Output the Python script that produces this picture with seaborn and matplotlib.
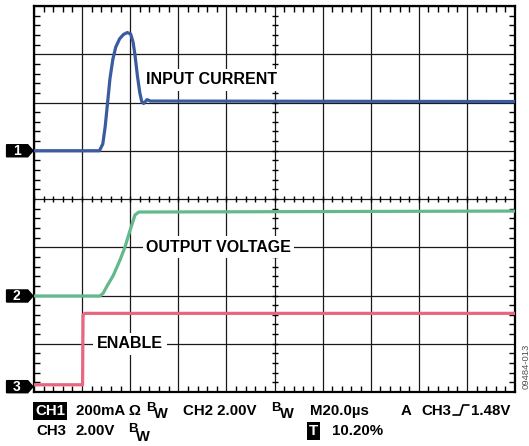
import numpy as np
import pandas as pd
import seaborn as sns
import matplotlib
matplotlib.use('Agg')
import matplotlib.pyplot as plt
from matplotlib.patches import Polygon

# scope traces, x and y in screen divisions
ch1_x = [0, 1.36, 1.43, 1.48, 1.53, 1.58, 1.64, 1.70, 1.78, 1.86, 1.94, 2.01, 2.06,
         2.10, 2.15, 2.20, 2.24, 2.28, 2.35, 2.42, 10]
ch1_y = [5.0, 5.0, 5.14, 5.5, 6.0, 6.5, 6.9, 7.15, 7.32, 7.41, 7.45, 7.42, 7.25,
         6.98, 6.55, 6.2, 6.02, 5.98, 6.06, 6.03, 6.02]

ch2_x = [0, 1.37, 1.44, 1.51, 1.65, 1.79, 1.89, 2.0, 2.10, 2.18, 10]
ch2_y = [1.99, 1.99, 2.05, 2.18, 2.42, 2.74, 3.0, 3.36, 3.67, 3.73, 3.75]

ch3_x = [0, 1.01, 1.02, 1.06, 10]
ch3_y = [0.15, 0.15, 1.60, 1.63, 1.63]

trace_names = ["1", "2", "3"]
trace_colors = ["#3b5ba0", "#62b98c", "#e8667f"]
marker_levels = [5.0, 1.99, 0.11]

labels = ["INPUT CURRENT", "OUTPUT VOLTAGE", "ENABLE"]
label_pos = [(2.33, 6.47), (2.33, 3.0), (1.31, 1.0)]

sns.set_style("white")
plt.rcParams['font.family'] = ['Liberation Sans', 'DejaVu Sans']
plt.rcParams['text.color'] = 'black'

fig = plt.figure(figsize=(5.29, 4.46), dpi=100)
ax = fig.add_axes([34/529, 1-392/446, 481/529, 386/446])

traces = [(ch1_x, ch1_y), (ch2_x, ch2_y), (ch3_x, ch3_y)]
for (tx, ty), name, col in zip(traces, trace_names, trace_colors):
    df = pd.DataFrame({"t": tx, "v": ty})
    sns.lineplot(data=df, x="t", y="v", ax=ax, color=col, linewidth=2.3,
                 estimator=None, sort=False, zorder=3)

ax.set_xlim(0, 10)
ax.set_ylim(0, 8)
ax.set_xticks(np.arange(0, 11, 1))
ax.set_yticks(np.arange(0, 9, 1))
ax.set_xticks(np.arange(0, 10.01, 0.2), minor=True)
ax.set_yticks(np.arange(0, 8.01, 0.2), minor=True)
ax.grid(True, which='major', color='#1a1a1a', linewidth=0.9)
ax.tick_params(which='major', length=0, labelbottom=False, labelleft=False)
ax.tick_params(which='minor', direction='in', length=4, width=1, color='black',
               top=True, right=True, bottom=True, left=True)
ax.set_xlabel("")
ax.set_ylabel("")
for sp in ax.spines.values():
    sp.set_color('black')
    sp.set_linewidth(1.6)

# center cross ticks
cx = np.arange(0, 10.01, 0.2)
cy = np.arange(0, 8.01, 0.2)
ax.plot(cx, np.full_like(cx, 4.0), ls='none', marker='|', ms=5, mew=1, color='black', zorder=2)
ax.plot(np.full_like(cy, 5.0), cy, ls='none', marker='_', ms=5, mew=1, color='black', zorder=2)

# trace labels with white background over the grid
for txt, (lx, ly) in zip(labels, label_pos):
    ax.text(lx, ly, txt, fontsize=11.5, fontweight='bold', va='center', ha='left',
            color='black', zorder=4,
            bbox=dict(facecolor='white', edgecolor='none', pad=2.5))

# channel ground markers on the left
for name, lvl in zip(trace_names, marker_levels):
    h = 0.125
    poly = Polygon([(-0.57, lvl - h), (-0.13, lvl - h), (-0.02, lvl),
                    (-0.13, lvl + h), (-0.57, lvl + h)], closed=True,
                   facecolor='black', edgecolor='black', clip_on=False,
                   transform=ax.transData)
    ax.add_patch(poly)
    ax.text(-0.36, lvl, name, color='white', fontsize=10, fontweight='bold',
            ha='center', va='center', clip_on=False)

# scope readout text at bottom
def ftxt(px, py, s, size=10.8, color='black', **kw):
    fig.text(px/529, 1-py/446, s, fontsize=size, fontweight='bold',
             va='baseline', ha='left', color=color, **kw)

ftxt(35, 415, "CH1", color='white',
     bbox=dict(facecolor='black', edgecolor='none', pad=1.2))
ftxt(76, 415, "200mA \u03a9")
ftxt(146, 411, "B", size=9.5)
ftxt(154, 418, "W", size=10.5)
ftxt(183, 415, "CH2 2.00V")
ftxt(271, 411, "B", size=9.5)
ftxt(280, 418, "W", size=10.5)
ftxt(310, 415, "M20.0\u00b5s")
ftxt(401, 415, "A")
ftxt(421, 415, "CH3")
ftxt(471, 415, "1.48V")
# trigger edge symbol
fig.add_artist(plt.Line2D([453/529, 460/529, 463/529, 469/529],
                          [1-415/446, 1-415/446, 1-405/446, 1-405/446],
                          color='black', linewidth=1.2))

ftxt(36, 435, "CH3")
ftxt(75, 435, "2.00V")
ftxt(128, 432, "B", size=9.5)
ftxt(136, 441, "W", size=10.5)
ftxt(309, 435, "T", color='white',
     bbox=dict(facecolor='black', edgecolor='none', pad=1.2))
ftxt(332, 435, "10.20%")

fig.text(526/529, 1-366/446, "09484-013", rotation=90, fontsize=6.8,
         color='#555555', ha='center', va='center')

fig.savefig('out.png', dpi=100)
